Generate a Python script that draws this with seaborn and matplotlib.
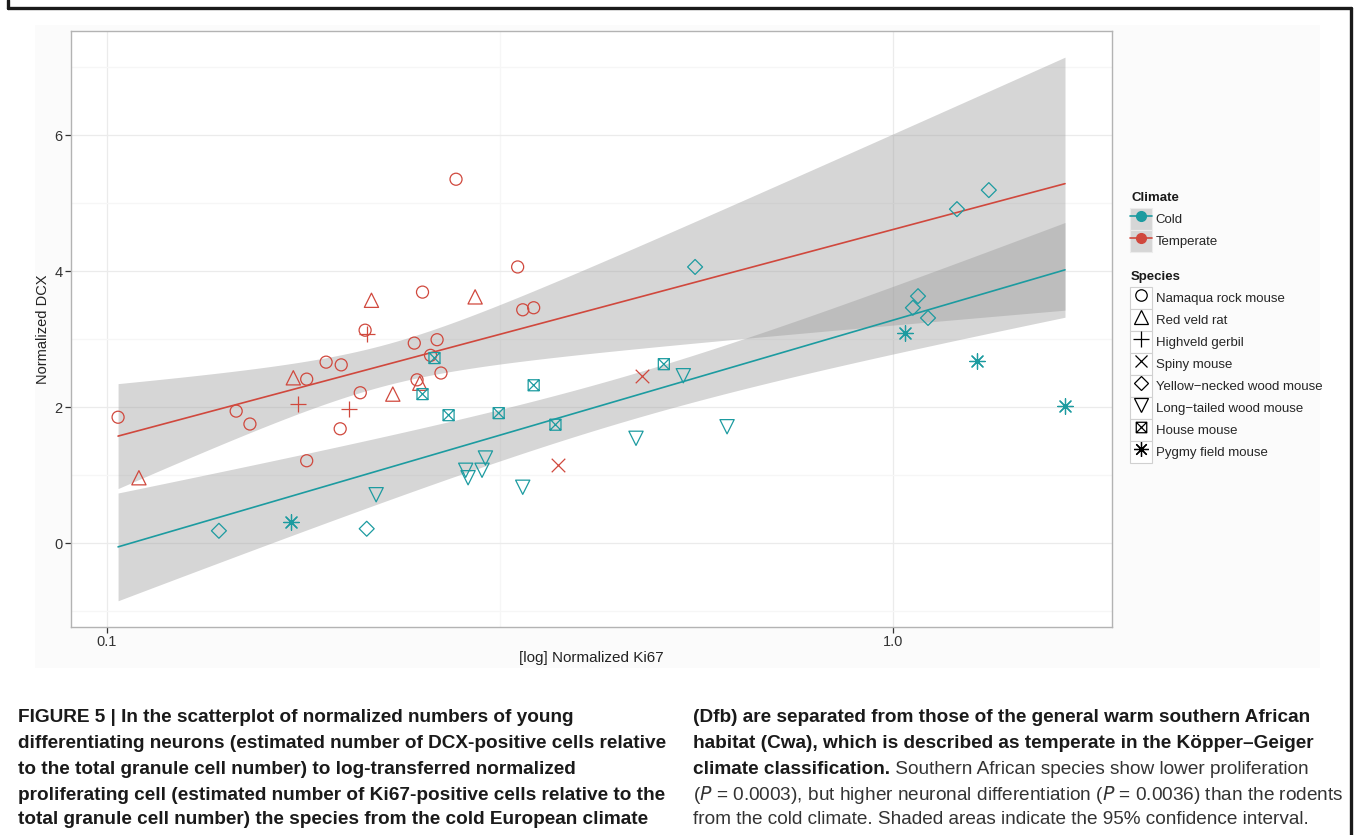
import numpy as np
import pandas as pd
import matplotlib
matplotlib.use("Agg")
import matplotlib.pyplot as plt
import matplotlib.path as mpath
import matplotlib.ticker as mticker
from matplotlib.lines import Line2D
from matplotlib.patches import Rectangle
from matplotlib.legend_handler import HandlerTuple
import seaborn as sns

# 1. DATOS (Ki67 normalizado, DCX normalizado)
namaqua_x = [0.1033, 0.146, 0.152, 0.1795, 0.1795, 0.190, 0.1986, 0.198, 0.210, 0.213,
             0.246, 0.252, 0.258, 0.263, 0.266, 0.278, 0.248, 0.333, 0.338, 0.349]
namaqua_y = [1.85, 1.94, 1.75, 1.21, 2.41, 2.66, 2.62, 1.68, 2.21, 3.13,
             2.94, 3.69, 2.76, 2.99, 2.50, 5.35, 2.40, 4.06, 3.43, 3.46]
veld_x = [0.1098, 0.1726, 0.217, 0.231, 0.250, 0.294]
veld_y = [0.96, 2.43, 3.57, 2.19, 2.35, 3.62]
gerbil_x = [0.175, 0.203, 0.214]
gerbil_y = [2.04, 1.97, 3.07]
spiny_x = [0.375, 0.480]
spiny_y = [1.15, 2.46]
yellow_x = [0.1388, 0.214, 0.560, 1.076, 1.060, 1.108, 1.206, 1.324]
yellow_y = [0.18, 0.21, 4.06, 3.63, 3.46, 3.31, 4.91, 5.19]
longtail_x = [0.220, 0.286, 0.288, 0.300, 0.303, 0.338, 0.471, 0.541, 0.615]
longtail_y = [0.71, 1.07, 0.96, 1.07, 1.25, 0.82, 1.54, 2.46, 1.71]
house_x = [0.252, 0.261, 0.272, 0.315, 0.349, 0.372, 0.511]
house_y = [2.19, 2.72, 1.88, 1.91, 2.32, 1.74, 2.63]
pygmy_x = [0.1714, 1.036, 1.279, 1.655]
pygmy_y = [0.31, 3.09, 2.68, 2.02]

species = ["Namaqua rock mouse", "Red veld rat", "Highveld gerbil", "Spiny mouse",
           "Yellow\u2212necked wood mouse", "Long\u2212tailed wood mouse", "House mouse",
           "Pygmy field mouse"]
climate = ["Temperate", "Temperate", "Temperate", "Temperate", "Cold", "Cold", "Cold", "Cold"]
xs = [namaqua_x, veld_x, gerbil_x, spiny_x, yellow_x, longtail_x, house_x, pygmy_x]
ys = [namaqua_y, veld_y, gerbil_y, spiny_y, yellow_y, longtail_y, house_y, pygmy_y]

df = pd.concat([
    pd.DataFrame({"ki67": x, "dcx": y, "species": sp, "climate": cl})
    for sp, cl, x, y in zip(species, climate, xs, ys)
], ignore_index=True)

# 2. ESTILO
colores = {"Cold": "#1C9BA0", "Temperate": "#D0483D"}

# cuadrado con aspa (shape 7 de ggplot)
P = mpath.Path
caja_x = P([(-1, -1), (1, -1), (1, 1), (-1, 1), (-1, -1), (-1, -1), (1, 1), (-1, 1), (1, -1)],
           [P.MOVETO, P.LINETO, P.LINETO, P.LINETO, P.CLOSEPOLY, P.MOVETO, P.LINETO, P.MOVETO, P.LINETO])

marcadores = ["o", "^", "+", "x", "D", "v", caja_x, (8, 2, 0)]
tamanos = [75, 105, 130, 95, 58, 105, 63, 125]
abiertos = [True, True, False, False, True, True, True, False]

sns.set_theme(style="white")
plt.rcParams["font.family"] = ["Liberation Sans", "DejaVu Sans"]
plt.rcParams["mathtext.fontset"] = "custom"
plt.rcParams["mathtext.it"] = "Liberation Sans Narrow:italic"
plt.rcParams["mathtext.rm"] = "Liberation Sans Narrow"

fig = plt.figure(figsize=(13.54, 8.35), dpi=100)
fig.add_artist(Rectangle((35 / 1354, 1 - 668 / 835), 1285 / 1354, 643 / 835,
                         transform=fig.transFigure, facecolor="#FBFBFB", edgecolor="none", zorder=0))
ax = fig.add_axes([71 / 1354, 1 - 627 / 835, 1041 / 1354, 596 / 835])
ax.set_facecolor("white")
ax.set_xscale("log")

# 3. REGRESIÓN LINEAL SOBRE log10(Ki67) CON IC 95%
rejilla = np.logspace(np.log10(df["ki67"].min()), np.log10(df["ki67"].max()), 120)
t975 = {"Cold": 2.056, "Temperate": 2.045}  # cuantil t con n-2 gl

for cl in ["Temperate", "Cold"]:
    sub = df[df["climate"] == cl]
    lx = np.log10(sub["ki67"].to_numpy())
    yv = sub["dcx"].to_numpy()
    b, a = np.polyfit(lx, yv, 1)
    n = len(sub)
    s = np.sqrt(((yv - (a + b * lx)) ** 2).sum() / (n - 2))
    lg = np.log10(rejilla)
    se = s * np.sqrt(1 / n + (lg - lx.mean()) ** 2 / ((lx - lx.mean()) ** 2).sum())
    ajuste = a + b * lg
    ax.fill_between(rejilla, ajuste - t975[cl] * se, ajuste + t975[cl] * se,
                    color="#999999", alpha=0.4, lw=0, zorder=2)
    sns.lineplot(x=rejilla, y=ajuste, color=colores[cl], lw=1.2, ax=ax, zorder=3)

# 4. PUNTOS
for sp, cl, m, s, ab in zip(species, climate, marcadores, tamanos, abiertos):
    sub = df[df["species"] == sp]
    kw = dict(color=colores[cl], marker=m, s=s, linewidth=0.9, zorder=4, legend=False, ax=ax)
    if ab:
        kw.update(facecolor="none", edgecolor=colores[cl])
    sns.scatterplot(data=sub, x="ki67", y="dcx", **kw)

# 5. EJES
ax.set_xlim(10 ** -1.0458, 10 ** 0.2786)
ax.set_ylim(-1.235, 7.53)
ax.xaxis.set_major_locator(mticker.FixedLocator([0.1, 1.0]))
ax.xaxis.set_major_formatter(mticker.FixedFormatter(["0.1", "1.0"]))
ax.xaxis.set_minor_locator(mticker.FixedLocator([10 ** -0.5]))
ax.xaxis.set_minor_formatter(mticker.NullFormatter())
ax.yaxis.set_major_locator(mticker.MultipleLocator(2))
ax.yaxis.set_minor_locator(mticker.MultipleLocator(1))
ax.grid(True, which="major", color="#EBEBEB", lw=0.9, zorder=0)
ax.grid(True, which="minor", color="#F6F6F6", lw=0.9, zorder=0)
ax.set_axisbelow(True)
ax.tick_params(which="major", direction="out", length=4, width=0.9, color="#333333",
               labelsize=10.5, labelcolor="#333333", pad=2, bottom=True, left=True)
ax.tick_params(which="minor", length=0)
for sp_ in ax.spines.values():
    sp_.set_color("#B3B3B3")
    sp_.set_linewidth(1.0)
ax.set_xlabel("[log] Normalized Ki67", fontsize=11, color="#222222", labelpad=1)
ax.set_ylabel("Normalized DCX", fontsize=10.5, color="#222222", labelpad=3)

# 6. LEYENDAS (títulos como texto aparte)
caja_gris = dict(facecolor="#D6D6D6", edgecolor="#ECECEC", lw=0.8)
caja_blanca = dict(facecolor="white", edgecolor="#D0D0D0", lw=0.8)
h_clima = [(Rectangle((0, 0), 1, 1, **caja_gris),
            Line2D([], [], color=colores[c], lw=1.2, marker="o", markersize=7))
           for c in ["Cold", "Temperate"]]
h_especie = []
for m, s, ab in zip(marcadores, tamanos, abiertos):
    ln = Line2D([], [], color="black", linestyle="none", marker=m, markersize=np.sqrt(s) * 0.95,
                markeredgewidth=0.9, markerfacecolor="none")
    h_especie.append((Rectangle((0, 0), 1, 1, **caja_blanca), ln))

comun = dict(loc="upper left", frameon=False, fontsize=9.5, handlelength=1.66, handleheight=2.19,
             labelspacing=0.0, handletextpad=0.3, borderpad=0, borderaxespad=0,
             handler_map={tuple: HandlerTuple(ndivide=1, pad=0)})
fig.legend(h_clima, ["Cold", "Temperate"], bbox_to_anchor=(1130 / 1354, 1 - 208 / 835), **comun)
fig.legend(h_especie, species, bbox_to_anchor=(1130 / 1354, 1 - 287 / 835), **comun)
fig.text(1131 / 1354, 1 - 198 / 835, "Climate", fontsize=9.5, weight="bold", va="center", color="#1A1A1A")
fig.text(1131 / 1354, 1 - 277 / 835, "Species", fontsize=9.5, weight="bold", va="center", color="#1A1A1A")

# 7. MARCO Y PIE DE FIGURA
for xx, yy in [([8, 8], [0, 8]), ([8, 1351], [8, 8]), ([1351, 1351], [8, 835])]:
    fig.add_artist(Line2D([v / 1354 for v in xx], [1 - v / 835 for v in yy],
                          transform=fig.transFigure, color="#1A1A1A", lw=2.4))

fuente = ["Liberation Sans Narrow", "Liberation Sans", "DejaVu Sans"]
tam = 13.7
izq = ["FIGURE 5 | In the scatterplot of normalized numbers of young",
       "differentiating neurons (estimated number of DCX-positive cells relative",
       "to the total granule cell number) to log-transferred normalized",
       "proliferating cell (estimated number of Ki67-positive cells relative to the",
       "total granule cell number) the species from the cold European climate"]
der_negrita = ["(Dfb) are separated from those of the general warm southern African",
               "habitat (Cwa), which is described as temperate in the K\u00f6pper\u2013Geiger"]
filas_y = [718, 744, 769, 795, 820]

for txt, yy in zip(izq, filas_y):
    fig.text(18 / 1354, 1 - yy / 835, txt, family=fuente, fontsize=tam, weight="bold",
             color="#1A1A1A", va="center", ha="left")
for txt, yy in zip(der_negrita, filas_y[:2]):
    fig.text(693 / 1354, 1 - yy / 835, txt, family=fuente, fontsize=tam, weight="bold",
             color="#1A1A1A", va="center", ha="left")
t3 = fig.text(693 / 1354, 1 - filas_y[2] / 835, "climate classification.", family=fuente,
              fontsize=tam, weight="bold", color="#1A1A1A", va="center", ha="left")
ax.annotate(" Southern African species show lower proliferation", xy=(1, 0), xycoords=t3,
            va="bottom", ha="left", family=fuente, fontsize=tam, color="#333333",
            annotation_clip=False)
fig.text(693 / 1354, 1 - filas_y[3] / 835,
         "($P$ = 0.0003), but higher neuronal differentiation ($P$ = 0.0036) than the rodents",
         family=fuente, fontsize=tam, color="#333333", va="center", ha="left")
fig.text(693 / 1354, 1 - filas_y[4] / 835,
         "from the cold climate. Shaded areas indicate the 95% confidence interval.",
         family=fuente, fontsize=tam, color="#333333", va="center", ha="left")

fig.savefig("out.png", dpi=100)
